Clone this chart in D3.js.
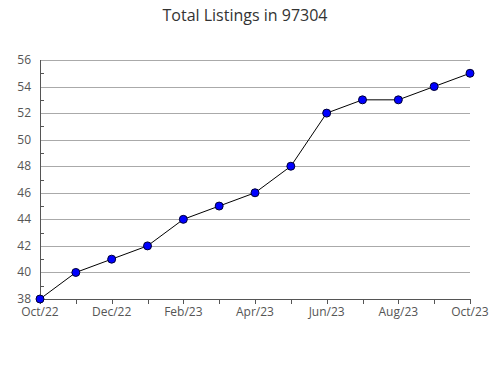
<!DOCTYPE html>
<meta charset="utf-8">
<html>
<head>
<title>Total Listings in 97304</title>
<script src="https://d3js.org/d3.v7.min.js"></script>
<style>
  body { margin: 0; background: #fff; }
  text { font-family: "Open Sans", sans-serif; }
  .title { font-size: 16px; fill: #333; }
  .tick-label { font-size: 12px; fill: #555; }
</style>
</head>
<body>
<svg width="490" height="380"></svg>
<script>
  // Data
  var months = ["Oct/22","Nov/22","Dec/22","Jan/23","Feb/23","Mar/23","Apr/23","May/23","Jun/23","Jul/23","Aug/23","Sep/23","Oct/23"];
  var listings = [38, 40, 41, 42, 44, 45, 46, 48, 52, 53, 53, 54, 55];
  var yTicks = [38, 40, 42, 44, 46, 48, 50, 52, 54, 56];
  var yMinor = [39, 41, 43, 45, 47, 49, 51, 53, 55];

  var svg = d3.select("svg");
  var plotLeft = 40, plotRight = 470, plotTop = 60, plotBottom = 299;

  var x = d3.scalePoint().domain(months).range([plotLeft, plotRight]);
  var y = d3.scaleLinear().domain([38, 56]).range([plotBottom, plotTop]);

  svg.append("text")
      .attr("class", "title")
      .attr("x", 245)
      .attr("y", 21)
      .attr("text-anchor", "middle")
      .text("Total Listings in 97304");

  // gridlines
  svg.append("g").selectAll("line")
      .data(yTicks.slice(1))
      .enter().append("line")
      .attr("x1", plotLeft).attr("x2", plotRight)
      .attr("y1", function (d) { return Math.round(y(d)) + 0.5; })
      .attr("y2", function (d) { return Math.round(y(d)) + 0.5; })
      .attr("stroke", "#aaa");

  // minor ticks on y axis
  svg.append("g").selectAll("line")
      .data(yMinor)
      .enter().append("line")
      .attr("x1", plotLeft).attr("x2", plotLeft + 4)
      .attr("y1", function (d) { return Math.round(y(d)) + 0.5; })
      .attr("y2", function (d) { return Math.round(y(d)) + 0.5; })
      .attr("stroke", "#555");

  // y labels
  svg.append("g").selectAll("text")
      .data(yTicks)
      .enter().append("text")
      .attr("class", "tick-label")
      .attr("x", 31)
      .attr("y", function (d) { return y(d) + 4; })
      .attr("text-anchor", "end")
      .text(function (d) { return d; });

  // x ticks
  svg.append("g").selectAll("line")
      .data(months)
      .enter().append("line")
      .attr("x1", function (d) { return Math.round(x(d)) + 0.5; })
      .attr("x2", function (d) { return Math.round(x(d)) + 0.5; })
      .attr("y1", plotBottom).attr("y2", plotBottom + 5)
      .attr("stroke", "#555");

  // x labels (every other month)
  svg.append("g").selectAll("text")
      .data(months.filter(function (d, i) { return i % 2 === 0; }))
      .enter().append("text")
      .attr("class", "tick-label")
      .attr("x", function (d) { return x(d); })
      .attr("y", plotBottom + 17)
      .attr("text-anchor", "middle")
      .text(function (d) { return d; });

  // axes lines
  svg.append("line")
      .attr("x1", plotLeft + 0.5).attr("x2", plotLeft + 0.5)
      .attr("y1", plotTop).attr("y2", plotBottom + 0.5)
      .attr("stroke", "#555");
  svg.append("line")
      .attr("x1", plotLeft).attr("x2", plotRight + 1)
      .attr("y1", plotBottom + 0.5).attr("y2", plotBottom + 0.5)
      .attr("stroke", "#555");

  // line
  var line = d3.line()
      .x(function (d, i) { return x(months[i]); })
      .y(function (d) { return y(d); });
  svg.append("path")
      .datum(listings)
      .attr("d", line)
      .attr("fill", "none")
      .attr("stroke", "#000")
      .attr("stroke-width", 1);

  svg.append("g").selectAll("circle")
      .data(listings)
      .enter().append("circle")
      .attr("cx", function (d, i) { return x(months[i]); })
      .attr("cy", function (d) { return y(d); })
      .attr("r", 4)
      .attr("fill", "#0000ff")
      .attr("stroke", "#000033")
      .attr("stroke-width", 1);
</script>
</body>
</html>
